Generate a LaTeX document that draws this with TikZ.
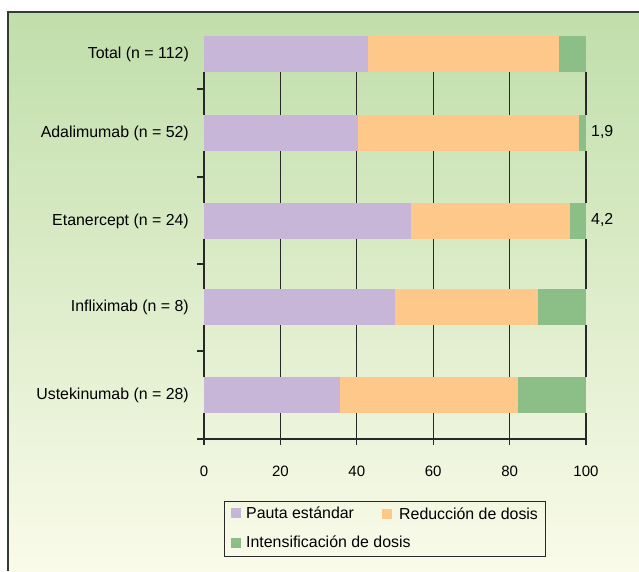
\documentclass[tikz,border=0pt]{standalone}
\usepackage{fontspec}
\setmainfont{Liberation Sans}
\definecolor{cpur}{RGB}{199,182,216}
\definecolor{cora}{RGB}{254,200,138}
\definecolor{cgrn}{RGB}{139,191,135}
\definecolor{bgtop}{RGB}{192,222,170}
\definecolor{bgbot}{RGB}{250,251,234}
\definecolor{gridc}{RGB}{40,40,40}
\definecolor{framec}{RGB}{50,60,50}
\tikzset{
  lbl/.style={inner sep=0pt, font=\fontsize{15.9}{18}\selectfont, text=black},
  ticklbl/.style={inner sep=0pt, font=\fontsize{15}{18}\selectfont, text=black},
  gridline/.style={draw=gridc, line width=1.1pt},
  framebox/.style={draw=framec, line width=1.2pt},
  legbox/.style={draw=gridc, line width=0.9pt},
}
\begin{document}
\begin{tikzpicture}[x=1pt,y=-1pt]
\useasboundingbox (0,0) rectangle (639,571);
\shade[top color=bgtop,bottom color=bgbot] (8,12) rectangle (639,571);
\draw[framebox] (639,12) -- (8,12) -- (8,571);
% bars
\foreach \t/\p/\o [count=\i] in {36/42.9/92.9, 115/40.4/98.1, 203/54.2/95.8, 289/50/87.5, 377/35.7/82.1}
{
  \fill[cpur] (204,\t) rectangle ({204+3.82*\p},\t+36);
  \fill[cora] ({204+3.82*\p},\t) rectangle ({204+3.82*\o},\t+36);
  \fill[cgrn] ({204+3.82*\o},\t) rectangle (586,\t+36);
}
% grid segments
\foreach \v in {0,20,...,100}
{
  \foreach \a/\b in {72/115, 151/203, 239/289, 325/377, 413/445}
    \draw[gridline] ({204+3.82*\v},\a) -- ({204+3.82*\v},\b);
  \node[ticklbl] (t\v) at ({204+3.82*\v},471) {\v};
}
% y ticks and axis
\foreach \y in {89,177,264,351}
  \draw[gridline] (197,\y) -- (204,\y);
\coordinate (axl) at (197,439);
\coordinate (axr) at (586,439);
\draw[gridline] (axl) -- (axr);
% category labels
\node[lbl,anchor=east] (l1) at (189,54) {Total (n = 112)};
\node[lbl,anchor=east] (l2) at (189,133) {Adalimumab (n = 52)};
\node[lbl,anchor=east] (l3) at (189,221) {Etanercept (n = 24)};
\node[lbl,anchor=east] (l4) at (189,307) {Infliximab (n = 8)};
\node[lbl,anchor=east] (l5) at (189,395) {Ustekinumab (n = 28)};
% value labels
\node[lbl,anchor=west] (v1) at (591,132) {1,9};
\node[lbl,anchor=west] (v2) at (591,220) {4,2};
% legend
\draw[legbox] (224,501) rectangle (545,556);
\fill[cpur] (231,508) rectangle (241,518);
\node[lbl,anchor=west] (g1) at (246,513) {Pauta estándar};
\fill[cora] (382,509) rectangle (392,519);
\node[lbl,anchor=west] (g2) at (399,514) {Reducción de dosis};
\fill[cgrn] (231,538) rectangle (241,548);
\node[lbl,anchor=west] (g3) at (246,542) {Intensificación de dosis};
\end{tikzpicture}
\end{document}
